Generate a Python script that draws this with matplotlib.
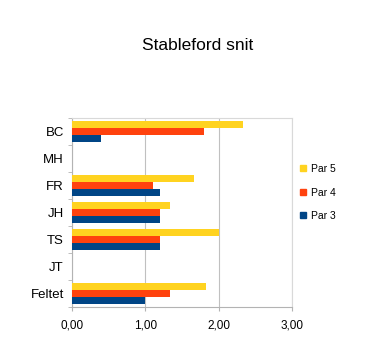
import numpy as np
import matplotlib.pyplot as plt
from matplotlib.lines import Line2D

plt.rcParams['font.family'] = ['Liberation Sans', 'DejaVu Sans']

# Average Stableford points per player, split by par of the hole
players = ['BC', 'MH', 'FR', 'JH', 'TS', 'JT', 'Feltet']
par5 = [2.33, 0, 1.66, 1.33, 2.00, 0, 1.83]
par4 = [1.80, 0, 1.10, 1.20, 1.20, 0, 1.33]
par3 = [0.40, 0, 1.20, 1.20, 1.20, 0, 1.00]
xticks = [0, 1, 2, 3]
xticklabels = ['0,00', '1,00', '2,00', '3,00']

c5 = '#ffd320'
c4 = '#ff420e'
c3 = '#004586'

fig = plt.figure(figsize=(3.66, 3.47), dpi=100)
ax = fig.add_axes([0.197, 0.115, 0.601, 0.545])

y = np.arange(len(players))
h = 0.26
ax.barh(y - h, par5, height=h, color=c5, zorder=3)
ax.barh(y, par4, height=h, color=c4, zorder=3)
ax.barh(y + h, par3, height=h, color=c3, zorder=3)

ax.set_ylim(len(players) - 0.5, -0.5)
ax.set_xlim(0, 3)

ax.set_yticks(y)
ax.set_yticklabels(players, fontsize=9.5)
ax.set_yticks(np.arange(-0.5, len(players), 1), minor=True)
ax.tick_params(axis='y', which='major', length=0, pad=6)
ax.tick_params(axis='y', which='minor', length=3, color='#b3b3b3', direction='out')

ax.set_xticks(xticks)
ax.set_xticklabels(xticklabels, fontsize=8.5)
ax.tick_params(axis='x', length=3, color='#b3b3b3', pad=6)

ax.grid(axis='x', color='#c0c0c0', linewidth=0.8, zorder=0)
for side in ['left', 'bottom']:
    ax.spines[side].set_color('#b3b3b3')
for side in ['top', 'right']:
    ax.spines[side].set_color('#d9d9d9')

fig.text(0.541, 0.87, 'Stableford snit', ha='center', va='center', fontsize=12.5)

handles = [Line2D([], [], marker='s', linestyle='none', color=c, markersize=4)
           for c in (c5, c4, c3)]
fig.legend(handles, ['Par 5', 'Par 4', 'Par 3'], loc='center left',
           bbox_to_anchor=(0.795, 0.445), frameon=False, fontsize=7.5,
           handlelength=0.6, handletextpad=0.4, labelspacing=1.3)

fig.savefig('out.png', dpi=100)
